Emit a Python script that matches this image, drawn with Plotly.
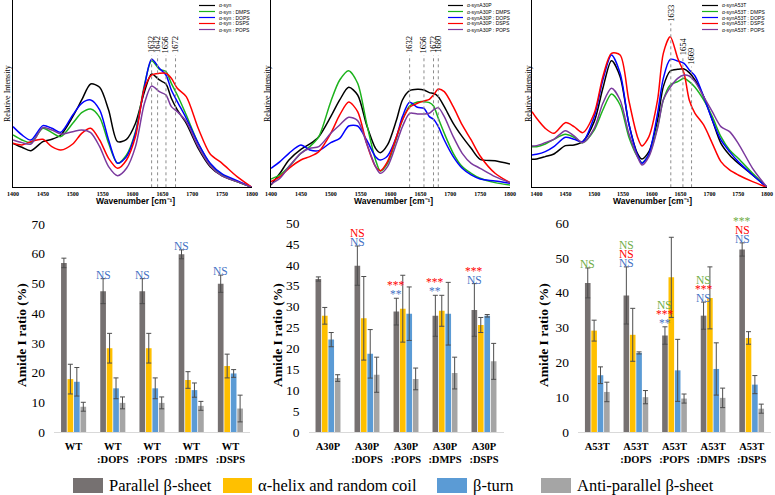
import plotly.graph_objects as go

W_PX, H_PX = 775, 495

# ---------------- FTIR spectra data (relative intensity, arbitrary units) ----------------
W1 = [1400, 1415, 1430, 1450, 1465, 1480, 1500, 1515, 1530, 1545, 1560, 1575, 1590, 1605, 1620,
      1632, 1645, 1656, 1665, 1675, 1690, 1710, 1730, 1750, 1775, 1800]
wt_free = [132, 120, 110, 137, 144, 157, 212, 262, 310, 300, 232, 137, 144, 192, 287, 340, 322, 310, 267, 232, 192, 117, 62, 34, 17, 0]
wt_dmps = [157, 142, 134, 177, 164, 152, 192, 224, 235, 210, 132, 72, 97, 167, 307, 380, 354, 347, 312, 277, 217, 132, 70, 37, 17, 0]
wt_dops = [182, 157, 142, 185, 177, 165, 217, 252, 262, 232, 142, 72, 92, 162, 302, 384, 357, 337, 292, 257, 207, 132, 72, 40, 20, 0]
wt_dsps = [132, 127, 137, 144, 122, 112, 130, 162, 177, 142, 87, 57, 82, 152, 297, 337, 342, 342, 327, 297, 272, 177, 100, 72, 32, 0]
wt_pops = [142, 134, 130, 179, 172, 160, 167, 172, 164, 122, 62, 35, 57, 122, 252, 304, 287, 277, 242, 227, 197, 122, 65, 34, 17, 0]

W2 = [1400, 1415, 1430, 1450, 1465, 1480, 1500, 1515, 1530, 1545, 1560, 1575, 1583, 1595, 1610, 1620,
      1632, 1645, 1656, 1665, 1672, 1680, 1690, 1705, 1720, 1735, 1750, 1775, 1800]
a30_free = [7, 42, 82, 114, 130, 152, 212, 262, 300, 277, 187, 117, 104, 127, 202, 262, 290, 294, 292, 284, 282, 272, 242, 192, 152, 117, 84, 80, 70]
a30_dmps = [25, 37, 62, 102, 122, 152, 257, 322, 350, 312, 192, 82, 49, 72, 147, 202, 244, 256, 257, 254, 244, 207, 162, 102, 62, 42, 27, 14, 7]
a30_dops = [57, 77, 102, 127, 112, 110, 134, 147, 184, 184, 142, 92, 82, 94, 152, 212, 255, 240, 237, 212, 204, 182, 142, 92, 57, 37, 25, 19, 12]
a30_dsps = [17, 32, 57, 82, 92, 107, 162, 217, 256, 227, 132, 62, 50, 77, 152, 202, 240, 252, 259, 264, 277, 295, 287, 242, 187, 142, 94, 42, 14]
a30_pops = [10, 27, 62, 102, 117, 122, 162, 187, 210, 200, 132, 62, 42, 62, 132, 182, 222, 220, 220, 222, 232, 239, 212, 152, 102, 72, 57, 32, 14]

W3 = [1392, 1400, 1415, 1430, 1450, 1465, 1480, 1500, 1515, 1530, 1545, 1560, 1575, 1583, 1595, 1610,
      1620, 1632, 1645, 1656, 1665, 1675, 1690, 1705, 1720, 1735, 1750, 1775, 1800]
a53_free = [84, 85, 92, 100, 125, 127, 137, 197, 297, 380, 332, 192, 102, 85, 107, 202, 302, 349, 354, 355, 344, 322, 272, 202, 132, 97, 72, 37, 0]
a53_dmps = [122, 122, 130, 144, 159, 150, 134, 172, 232, 280, 247, 152, 92, 74, 97, 182, 262, 307, 317, 327, 317, 300, 262, 212, 152, 112, 87, 42, 0]
a53_dops = [97, 99, 107, 122, 150, 144, 137, 212, 322, 397, 342, 192, 97, 72, 100, 222, 327, 384, 379, 372, 352, 334, 272, 202, 142, 107, 77, 37, 0]
a53_dsps = [227, 207, 177, 162, 194, 182, 164, 222, 332, 402, 397, 262, 152, 124, 152, 262, 402, 452, 387, 342, 262, 222, 187, 132, 77, 52, 37, 17, 0]
a53_pops = [124, 125, 134, 144, 170, 154, 134, 177, 252, 297, 262, 162, 92, 67, 92, 177, 262, 300, 327, 337, 334, 317, 272, 227, 182, 167, 132, 57, 0]

spec_suffix = ["", " : DMPS", " : DOPS", " : DSPS", " : POPS"]
spec_colors = ["#000000", "#1DB31D", "#0000FF", "#FF0000", "#7B3A9E"]
spec_prefix = ["α-syn", "α-synA30P", "α-synA53T"]

peak_labels_1 = [1632, 1642, 1656, 1672]
peak_labels_2 = [1632, 1656, 1672, 1680]
peak_labels_3 = [1633, 1654, 1669]
peak_tops_1 = [397, 397, 397, 397]
peak_tops_2 = [397, 397, 397, 397]
peak_tops_3 = [492, 390, 362]

# ---------------- Amide I ratio data (%) ----------------
series_names = ["Parallel β-sheet", "α-helix and random coil", "β-turn", "Anti-parallel β-sheet"]
bar_colors = ["#767171", "#FFC000", "#5B9BD5", "#A5A5A5"]

cats_wt = ["WT", "WT<br>:DOPS", "WT<br>:POPS", "WT<br>:DMPS", "WT<br>:DSPS"]
wt_par = [56.9, 47.4, 47.4, 59.8, 49.9]
wt_par_err = [1.6, 4.2, 4.2, 1.5, 2.9]
wt_hel = [17.8, 28.2, 28.2, 17.5, 22.2]
wt_hel_err = [5.0, 5.0, 5.0, 2.8, 4.0]
wt_turn = [16.9, 14.7, 14.7, 14.1, 19.7]
wt_turn_err = [4.8, 3.5, 3.5, 2.4, 1.3]
wt_anti = [8.5, 9.8, 9.8, 8.8, 7.9]
wt_anti_err = [1.5, 2.0, 2.0, 1.5, 4.5]

cats_a30 = ["A30P", "A30P<br>:DOPS", "A30P<br>:POPS", "A30P<br>:DMPS", "A30P<br>:DSPS"]
a30_par = [36.6, 39.8, 28.8, 27.8, 29.2]
a30_par_err = [0.5, 4.7, 3.2, 4.9, 6.3]
a30_hel = [27.8, 27.2, 29.5, 29.0, 25.6]
a30_hel_err = [2.0, 10.0, 8.0, 3.7, 1.8]
a30_turn = [22.1, 18.7, 28.3, 28.3, 27.8]
a30_turn_err = [1.7, 5.8, 6.4, 7.5, 0.3]
a30_anti = [12.9, 13.7, 12.7, 14.1, 16.9]
a30_anti_err = [0.8, 4.2, 2.6, 3.8, 4.3]

cats_a53 = ["A53T", "A53T<br>:DOPS", "A53T<br>:POPS", "A53T<br>:DMPS", "A53T<br>:DSPS"]
a53_par = [42.8, 39.2, 27.7, 33.4, 52.4]
a53_par_err = [4.3, 8.2, 2.5, 3.9, 1.9]
a53_hel = [29.1, 27.9, 44.4, 38.5, 27.0]
a53_hel_err = [3.0, 7.6, 11.5, 8.9, 1.8]
a53_turn = [16.3, 22.7, 17.7, 18.1, 13.6]
a53_turn_err = [2.4, 0.3, 8.9, 7.5, 2.6]
a53_anti = [11.5, 10.0, 9.6, 9.8, 6.7]
a53_anti_err = [2.8, 1.9, 1.3, 2.8, 1.3]

# significance marks (bottom to top) above the parallel beta-sheet bar
C_B, C_R, C_G = "#4472C4", "#FF0000", "#70AD47"
wt_sig = [[], [("NS", C_B)], [("NS", C_B)], [("NS", C_B)], [("NS", C_B)]]
a30_sig = [[], [("NS", C_B), ("NS", C_R)], [("**", C_B), ("***", C_R)],
           [("**", C_B), ("***", C_R)], [("NS", C_B), ("***", C_R)]]
a53_sig = [[("NS", C_G)], [("NS", C_B), ("NS", C_R), ("NS", C_G)],
           [("**", C_B), ("***", C_R), ("NS", C_G)], [("NS", C_B), ("***", C_R), ("NS", C_G)],
           [("NS", C_B), ("NS", C_R), ("***", C_G)]]

SERIF = "Liberation Serif"
SANS = "Liberation Sans"

fig = go.Figure()

def px_x(p):
    return p / W_PX

def px_y(p):
    return 1 - p / H_PX

# ---------------- spectra panels ----------------
spec_panels = [
    (W1, [wt_free, wt_dmps, wt_dops, wt_dsps, wt_pops], "x", "y", (13, 252), [1400, 1800],
     peak_labels_1, peak_tops_1, (199, 215), 7),
    (W2, [a30_free, a30_dmps, a30_dops, a30_dsps, a30_pops], "x2", "y2", (271, 510), [1400, 1800],
     peak_labels_2, peak_tops_2, (448, 463), 267),
    (W3, [a53_free, a53_dmps, a53_dops, a53_dsps, a53_pops], "x3", "y3", (532, 767), [1392, 1800],
     peak_labels_3, peak_tops_3, (702, 718), 528),
]

spec_y_dom = [px_y(187.3), 1.0]
shapes = []
annotations = []
layout_axes = {}
for k, (wx, curves, xa, ya, (l, r), xr, plabs, ptops, (lx0, lx1), ytx) in enumerate(spec_panels):
    for ci, cv in enumerate(curves):
        fig.add_trace(go.Scatter(x=wx, y=cv, mode="lines", xaxis=xa, yaxis=ya,
                                 line=dict(color=spec_colors[ci], width=1.5, shape="spline", smoothing=0.8),
                                 name=spec_prefix[k] + spec_suffix[ci], showlegend=False))
    xname = "xaxis" if k == 0 else f"xaxis{k+1}"
    yname = "yaxis" if k == 0 else f"yaxis{k+1}"
    layout_axes[xname] = dict(domain=[px_x(l), px_x(r)], anchor=ya, range=xr, automargin=False,
                              tickvals=list(range(1400, 1801, 50)),
                              tickfont=dict(family=SERIF, size=6, color="black", weight="bold"),
                              showline=True, linecolor="black", linewidth=1,
                              ticks="", showgrid=False, zeroline=False, ticklabelstandoff=0)
    layout_axes[yname] = dict(domain=spec_y_dom, anchor=xa, range=[0, 562], automargin=False,
                              showticklabels=False, showline=True, linecolor="black", linewidth=1,
                              showgrid=False, zeroline=False, ticks="")
    # peak marker lines and labels
    for pl, pt in zip(plabs, ptops):
        shapes.append(dict(type="line", xref=xa, yref=ya, x0=pl, x1=pl, y0=0, y1=pt,
                           line=dict(color="#8C8C8C", width=1, dash="dot")))
        annotations.append(dict(xref=xa, yref=ya, x=pl, y=pt, text=str(pl), showarrow=False,
                                textangle=-90, yanchor="bottom", xanchor="center",
                                font=dict(family=SERIF, size=8.5, color="black")))
    # axis titles
    annotations.append(dict(xref="paper", yref="paper", x=px_x((l + r) / 2 + 3), y=px_y(201),
                            xanchor="center", yanchor="middle",
                            text="Wavenumber [cm⁻¹]", showarrow=False,
                            font=dict(family=SANS, size=8.5, color="black", weight="bold")))
    annotations.append(dict(xref="paper", yref="paper", x=px_x(ytx), y=px_y(94),
                            xanchor="center", yanchor="middle",
                            text="Relative Intensity", showarrow=False, textangle=-90,
                            font=dict(family=SERIF, size=8, color="black")))
    # small legend
    for ci in range(5):
        yy = px_y(5.5 + 6 * ci)
        shapes.append(dict(type="line", xref="paper", yref="paper", x0=px_x(lx0), x1=px_x(lx1),
                           y0=yy, y1=yy, line=dict(color=spec_colors[ci], width=1.2)))
        annotations.append(dict(xref="paper", yref="paper", x=px_x(lx1 + 2), y=yy,
                                text=spec_prefix[k] + spec_suffix[ci], showarrow=False,
                                xanchor="left", yanchor="middle",
                                font=dict(family=SANS, size=5, color="black")))

# ---------------- bar panels ----------------
BARGAP = 0.34
bar_panels = [
    (cats_wt, [wt_par, wt_hel, wt_turn, wt_anti], [wt_par_err, wt_hel_err, wt_turn_err, wt_anti_err],
     wt_sig, 4, (54, 250), 224, [0, 70], 10, 21),
    (cats_a30, [a30_par, a30_hel, a30_turn, a30_anti], [a30_par_err, a30_hel_err, a30_turn_err, a30_anti_err],
     a30_sig, 5, (308.5, 503.5), 223, [0, 50], 5, 277),
    (cats_a53, [a53_par, a53_hel, a53_turn, a53_anti], [a53_par_err, a53_hel_err, a53_turn_err, a53_anti_err],
     a53_sig, 6, (578, 771), 223, [0, 60], 10, 543),
]
for cats, vals, errs, sig, n, (l, r), top, yr, dt, ttx in bar_panels:
    xa, ya = f"x{n}", f"y{n}"
    for s in range(4):
        fig.add_trace(go.Bar(x=cats, y=vals[s], xaxis=xa, yaxis=ya, name=series_names[s],
                             marker=dict(color=bar_colors[s], line=dict(width=0)),
                             error_y=dict(type="data", array=errs[s], color="#4D4D4D",
                                          thickness=1, width=2.5),
                             showlegend=False))
    layout_axes[f"xaxis{n}"] = dict(domain=[px_x(l), px_x(r)], anchor=ya, type="category",
                                    automargin=False,
                                    tickfont=dict(family=SERIF, size=10.5, color="black", weight="bold"),
                                    showline=True, linecolor="#D9D9D9", linewidth=1, ticks="",
                                    showgrid=False, zeroline=False, ticklabelstandoff=4)
    layout_axes[f"yaxis{n}"] = dict(domain=[px_y(432), px_y(top)], anchor=xa, range=yr, dtick=dt,
                                    automargin=False,
                                    tickfont=dict(family=SERIF, size=13.5, color="black"),
                                    showline=False, showgrid=False, zeroline=False, ticks="",
                                    ticklabelstandoff=8)
    annotations.append(dict(xref="paper", yref="paper", x=px_x(ttx), y=px_y(335),
                            xanchor="center", yanchor="middle",
                            text="Amide I ratio (%)", showarrow=False, textangle=-90,
                            font=dict(family=SERIF, size=13.5, color="black", weight="bold")))
    off = -0.375 * (1 - BARGAP)
    for i, marks in enumerate(sig):
        for j, (txt, col) in enumerate(marks):
            annotations.append(dict(xref=xa, yref=ya, x=i + off, y=vals[0][i] + errs[0][i],
                                    text=txt, showarrow=False, yanchor="bottom", xanchor="center",
                                    yshift=-3 + 9 * j, borderpad=0,
                                    font=dict(family=SERIF, size=11.5, color=col)))

# ---------------- bottom legend ----------------
leg_sw = [(73, 103), (223, 252), (437, 467), (541, 571)]
for s in range(4):
    x0, x1 = leg_sw[s]
    shapes.append(dict(type="rect", xref="paper", yref="paper", x0=px_x(x0), x1=px_x(x1),
                       y0=px_y(493), y1=px_y(478), fillcolor=bar_colors[s], line=dict(width=0)))
    annotations.append(dict(xref="paper", yref="paper", x=px_x(x1 + 4), y=px_y(485.5),
                            text=series_names[s], showarrow=False, xanchor="left", yanchor="middle",
                            font=dict(family=SERIF, size=16.5, color="black")))

fig.update_layout(width=W_PX, height=H_PX, margin=dict(l=0, r=0, t=0, b=0, autoexpand=False),
                  template="none",
                  paper_bgcolor="white", plot_bgcolor="white", showlegend=False,
                  barmode="group", bargap=BARGAP, bargroupgap=0.12,
                  shapes=shapes, annotations=annotations, **layout_axes)

fig.write_html("out.html", config={"displayModeBar": False},
               post_script="document.body.style.margin='0';document.body.style.overflow='hidden';")
